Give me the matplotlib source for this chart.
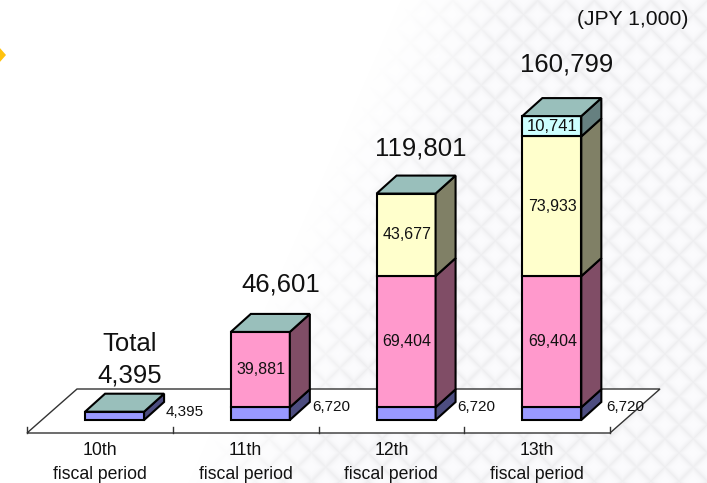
import matplotlib
matplotlib.use('Agg')
import matplotlib.pyplot as plt
import numpy as np
from matplotlib.patches import Polygon

plt.rcParams['font.family'] = ['Liberation Sans', 'DejaVu Sans']

# data
periods = ['10th\nfiscal period', '11th\nfiscal period', '12th\nfiscal period', '13th\nfiscal period']
totals = ['Total\n4,395', '46,601', '119,801', '160,799']
base = [4395, 6720, 6720, 6720]
pink = [0, 39881, 69404, 69404]
yellow = [0, 0, 43677, 73933]
cyan = [0, 0, 0, 10741]
base_labels = ['4,395', '6,720', '6,720', '6,720']

# nudges for the labels, in pixels
total_dx = [15, 20, 15, 15]
total_dy = [6, 17, 15, 22]
base_dx = [22, 22, 22, 25]
base_dy = [4, 7, 7, 7]

W, H = 707, 483
# pixels per category and per value, the axes fill the figure
px_cat = 145.75
px_val = 1.89 / 1000
x0_px, y0_px = 27, 420

fig = plt.figure(figsize=(W / 100, H / 100), dpi=100)
ax = fig.add_axes([0, 0, 1, 1])
ax.set_xlim(-x0_px / px_cat, (W - x0_px) / px_cat)
ax.set_ylim(-(H - y0_px) / px_val, y0_px / px_val)
ax.axis('off')

# pale woven backdrop, starts along a slanted edge
yy, xx = np.mgrid[0:H, 0:W]
a = np.abs(np.sin((xx + yy) / 9.0))
b = np.abs(np.sin((xx - yy) / 9.0))
weave = np.maximum(1 - a, 1 - b) ** 2
fade = np.clip((xx - 400 + 0.44 * yy) / 120.0, 0, 1)
shade = 1 - fade * (0.015 + 0.05 * weave)
bg = np.dstack([shade, shade, np.minimum(shade + 0.008 * fade, 1)])
ax.imshow(bg, extent=ax.get_xlim() + ax.get_ylim(), aspect='auto', zorder=0, origin='upper')

# depth of the box in data units
dx = 20 / px_cat
dy = 18 / px_val
bar_w = 59 / px_cat
# floor
floor_dx = 50 / px_cat
floor_dy = 44 / px_val
front_y = -13 / px_val
n = len(periods)
ax.add_patch(Polygon([(0, front_y), (n, front_y), (n + floor_dx, front_y + floor_dy), (floor_dx, front_y + floor_dy)],
                     fc='white', ec='#333333', lw=1.0, zorder=1))
for i in range(n + 1):
    ax.plot([i, i], [front_y, front_y + 6 / px_val], color='#333333', lw=1.0, zorder=1)

colors = [('#9999FF', '#4D4D80'), ('#FF99CC', '#804D66'), ('#FFFFCC', '#808066'), ('#CCFFFF', '#668080')]
top_color = '#99BFBB'
edge = dict(ec='black', lw=1.5, joinstyle='miter', zorder=3)

centers = np.arange(n) + 0.5 + 14.7 / px_cat
for i in range(n):
    left = centers[i] - bar_w / 2
    right = left + bar_w
    bottom = 0
    for vals, (front, side) in zip([base, pink, yellow, cyan], colors):
        v = vals[i]
        if v == 0:
            continue
        ax.bar(left, v, bar_w, bottom=bottom, align='edge', color=front, edgecolor='black', linewidth=1.5, zorder=3)
        ax.add_patch(Polygon([(right, bottom), (right + dx, bottom + dy), (right + dx, bottom + v + dy), (right, bottom + v)],
                             fc=side, **edge))
        bottom += v
    ax.add_patch(Polygon([(left, bottom), (left + dx, bottom + dy), (right + dx, bottom + dy), (right, bottom)],
                         fc=top_color, **edge))
    # total above the box
    ax.text(centers[i] + total_dx[i] / px_cat, bottom + dy + total_dy[i] / px_val, totals[i], ha='center', va='bottom',
            fontsize=18.5, linespacing=1.38, color='#111111', zorder=5)
    # value beside the base
    ax.text(right + base_dx[i] / px_cat, base[i] / 2 + base_dy[i] / px_val, base_labels[i], ha='left', va='center',
            fontsize=11, color='#111111', zorder=5)
    # values inside the box
    bottom = base[i]
    for vals, size in zip([pink, yellow, cyan], [11.5, 11.5, 12]):
        if vals[i]:
            ax.text(centers[i] + 0.5 / px_cat, bottom + vals[i] / 2, f'{vals[i]:,}', ha='center', va='center',
                    fontsize=size, color='#111111', zorder=5)
            bottom += vals[i]
    # category label
    ax.text(i + 0.5, front_y - 9 / px_val, periods[i], ha='center', va='top',
            fontsize=12.7, linespacing=1.55, color='#111111', zorder=5)

ax.text((688 - x0_px) / px_cat, (y0_px - 19) / px_val, '(JPY 1,000)', ha='right', va='center',
        fontsize=15.2, color='#111111', zorder=5)

# corner marker
fig.patches.append(Polygon([(-8 / W, 1 - 55 / H), (-1 / W, 1 - 47 / H), (6 / W, 1 - 55 / H), (-1 / W, 1 - 63 / H)],
                           transform=fig.transFigure, fc='#FFC20E', ec='none'))

fig.savefig('out.png', dpi=100)
